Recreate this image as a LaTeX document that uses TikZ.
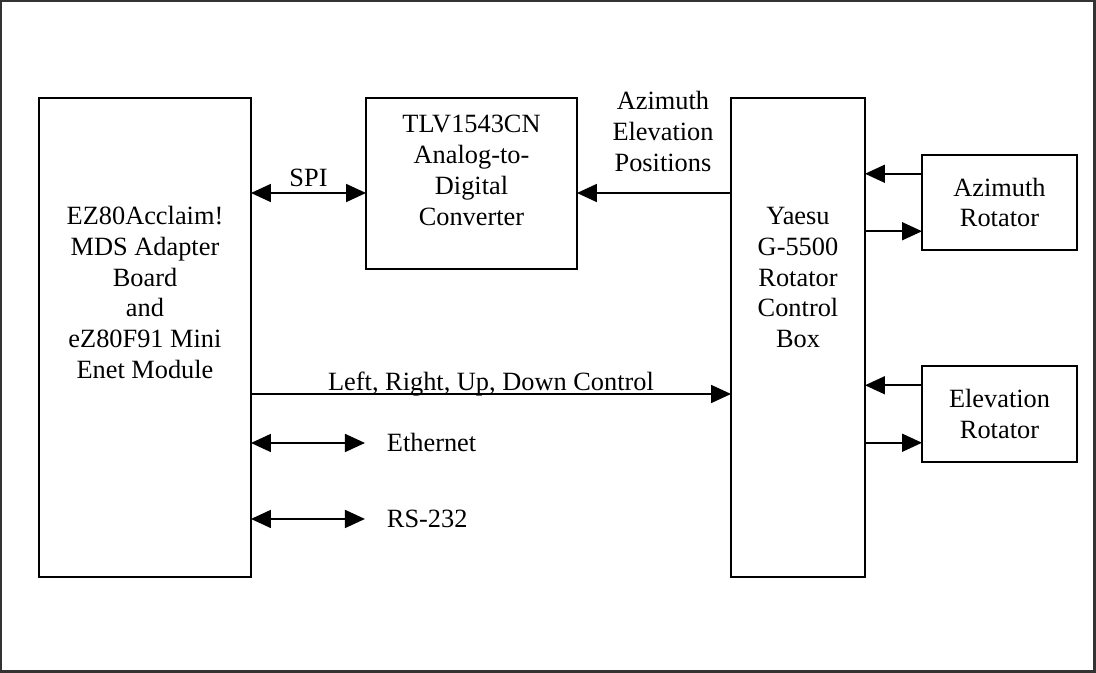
\documentclass[tikz,border=0pt]{standalone}
\usepackage{fontspec}
\setmainfont{Liberation Serif}
\usetikzlibrary{arrows.meta,positioning}

\begin{document}
\begin{tikzpicture}[x=0.02cm,y=-0.02cm,
  font=\fontsize{15}{17.6}\selectfont,
  blk/.style={draw,line width=1.1pt,inner sep=0pt,outer sep=0pt,align=center},
  lbl/.style={inner sep=1.5pt,align=center},
  arr/.style={-{Triangle[length=0.4cm,width=0.36cm]},line width=1pt},
  darr/.style={{Triangle[length=0.4cm,width=0.36cm]}-{Triangle[length=0.4cm,width=0.36cm]},line width=1pt}
]
\useasboundingbox (0,0) rectangle (1096,673);
\draw[line width=1.4pt,black!80] (1,1) rectangle (1094.5,671.5);
% Blocks
\node[blk,minimum width=4.24cm,minimum height=9.58cm] (mcu) at (145,337.5) {};
\node[lbl] (mcutxt) at ([yshift=0.9cm]mcu.center)
  {EZ80Acclaim!\\MDS Adapter\\Board\\and\\eZ80F91 Mini\\Enet Module};
\node[blk,minimum width=4.22cm,minimum height=3.42cm] (adc) at (471.5,183.5) {};
\node[lbl] (adctxt) at ([yshift=0.26cm]adc.center)
  {TLV1543CN\\Analog-to-\\Digital\\Converter};
\node[blk,minimum width=2.68cm,minimum height=9.58cm] (ctrl) at (798,337.5) {};
\node[lbl] (ctrltxt) at ([yshift=1.2cm]ctrl.center)
  {Yaesu\\G-5500\\Rotator\\Control\\Box};
% Rotators
\node[blk,minimum width=3.1cm,minimum height=1.9cm] (azrot) at (999.5,202.5) {Azimuth\\Rotator};
\node[blk,minimum width=3.1cm,minimum height=1.92cm] (elrot) at (999.5,414) {Elevation\\Rotator};
% Rows of the connectors
\coordinate (spirow) at ([yshift=-0.19cm]adc.west);
\coordinate (ctlrow) at ([yshift=-1.13cm]ctrl.west);
% SPI and position feedback
\draw[darr] (mcu.east |- spirow) -- (spirow)
  node[lbl,midway,above=1.3pt] {SPI};
\draw[arr] (ctrl.west |- spirow) -- (adc.east |- spirow)
  node[lbl,midway,above=0.35cm,xshift=0.18cm] {Azimuth\\Elevation\\Positions};
% Control lines
\draw[arr] (mcu.east |- ctlrow) -- (ctlrow)
  node[lbl,midway,anchor=base,yshift=0.06cm] {Left, Right, Up, Down Control};
% Network ports
\foreach \nm/\dy/\txt in {eth/-2.11/Ethernet,rs/-3.63/RS-232}{
  \coordinate (\nm) at ([yshift=\dy cm]mcu.east);
  \coordinate (\nm-end) at ([xshift=2.28cm]\nm);
  \draw[darr] (\nm) -- (\nm-end);
  \node[lbl,right=0.38cm of \nm-end] (\nm-txt) {\txt};
}
% Rotator links
\foreach \r in {azrot,elrot}{
  \coordinate (\r-in) at ([yshift=0.575cm]\r.west);
  \coordinate (\r-out) at ([yshift=-0.575cm]\r.west);
  \draw[arr] (\r-in) -- (ctrl.east |- \r-in);
  \draw[arr] (ctrl.east |- \r-out) -- (\r-out);
}
\end{tikzpicture}
\end{document}
